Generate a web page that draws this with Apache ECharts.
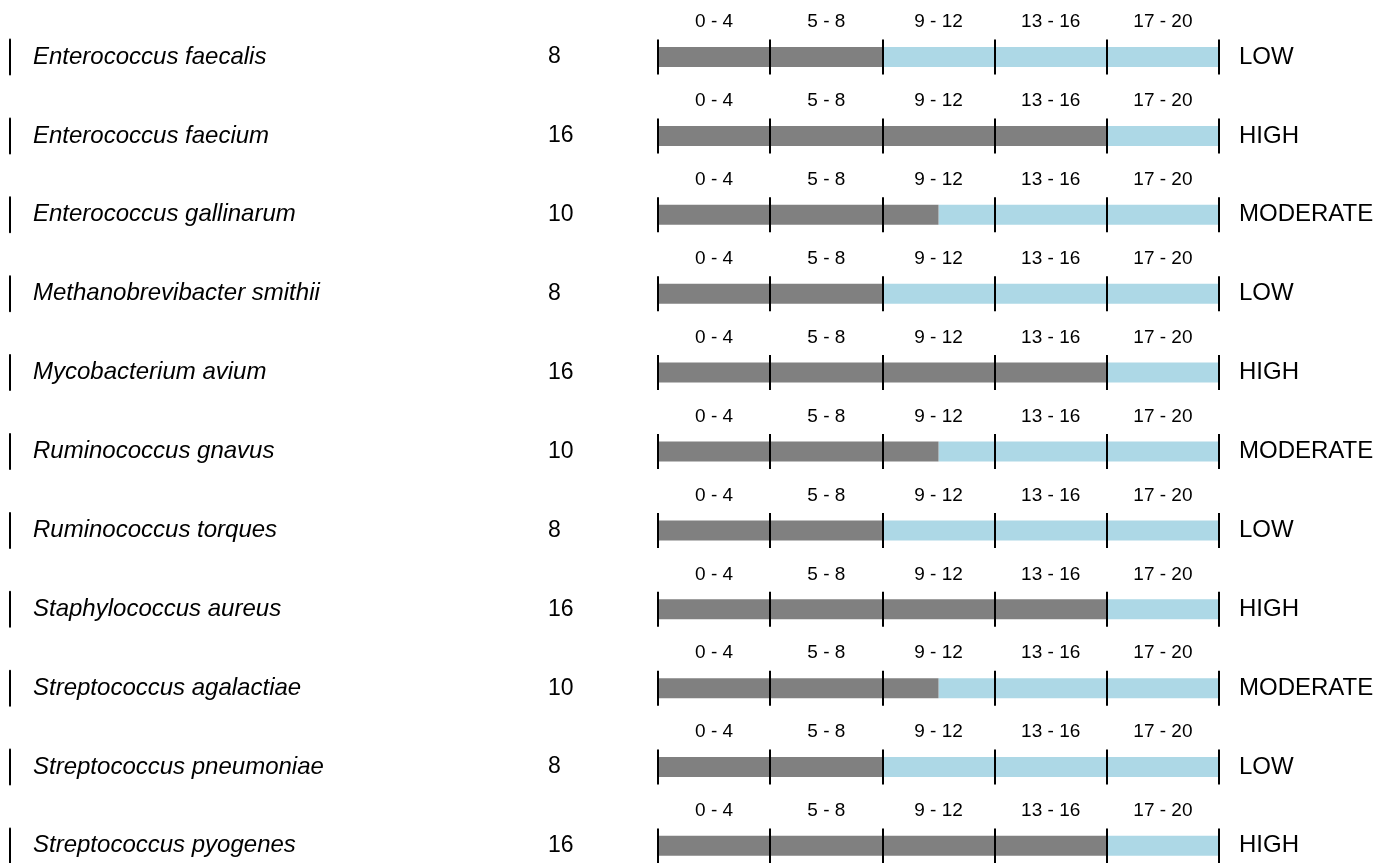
<!DOCTYPE html>
<html>
<head>
<meta charset="utf-8">
<script src="https://cdn.jsdelivr.net/npm/echarts@6/dist/echarts.min.js"></script>
<style>
html,body{margin:0;padding:0;background:#fff;}
#chart{width:1390px;height:863px;}
</style>
</head>
<body>
<div id="chart"></div>
<script>
const species = [
  "Enterococcus faecalis",
  "Enterococcus faecium",
  "Enterococcus gallinarum",
  "Methanobrevibacter smithii",
  "Mycobacterium avium",
  "Ruminococcus gnavus",
  "Ruminococcus torques",
  "Staphylococcus aureus",
  "Streptococcus agalactiae",
  "Streptococcus pneumoniae",
  "Streptococcus pyogenes"
];
const values = [8, 16, 10, 8, 16, 10, 8, 16, 10, 8, 16];
const levels = ["LOW", "HIGH", "MODERATE", "LOW", "HIGH", "MODERATE", "LOW", "HIGH", "MODERATE", "LOW", "HIGH"];
const rangeLabels = ["0 - 4", "5 - 8", "9 - 12", "13 - 16", "17 - 20"];
const tickValues = [0, 4, 8, 12, 16, 20];
const scaleMax = 20;

const FONT = "Liberation Sans, Arial, Helvetica, sans-serif";
const chart = echarts.init(document.getElementById('chart'), null, {renderer: 'canvas'});

const rowCenter0 = 57, rowStep = 78.9, gridH = 35;
const gridLeft = 658, gridRight = 171;

const grid = [], xAxis = [], yAxis = [], series = [];
species.forEach((name, i) => {
  const top = rowCenter0 + i * rowStep - gridH / 2;
  grid.push({left: gridLeft, right: gridRight, top: top, height: gridH});
  xAxis.push({type: 'value', gridIndex: i, min: 0, max: scaleMax, interval: 4, show: false});
  xAxis.push({
    type: 'category', gridIndex: i, position: 'top', data: rangeLabels, boundaryGap: true,
    axisLine: {show: false}, axisTick: {show: false}, splitLine: {show: false},
    axisLabel: {fontSize: 19, color: '#000', fontFamily: FONT, margin: 8, interval: 0}
  });
  yAxis.push({
    type: 'category', gridIndex: i, data: [name], position: 'left', offset: gridLeft - 10,
    axisLine: {show: true, onZero: false, lineStyle: {color: '#000', width: 2}},
    axisTick: {show: false},
    axisLabel: {
      align: 'left', margin: -23,
      formatter: (v) => '{n|' + v + '}{v|' + values[i] + '}',
      rich: {
        n: {fontSize: 24, fontStyle: 'italic', color: '#000', fontFamily: FONT, width: 515},
        v: {fontSize: 23, color: '#000', fontFamily: FONT}
      }
    }
  });
  yAxis.push({
    type: 'category', gridIndex: i, data: [levels[i]], position: 'right',
    axisLine: {show: false, onZero: false}, axisTick: {show: false},
    axisLabel: {margin: 20, fontSize: 24, color: '#000', fontFamily: FONT}
  });
  series.push({
    type: 'bar', xAxisIndex: 2 * i, yAxisIndex: 2 * i, stack: 'r' + i,
    data: [values[i]], barWidth: 20, itemStyle: {color: '#808080'}, silent: true,
    markLine: {
      silent: true, symbol: ['none', 'none'], animation: false,
      label: {show: false},
      lineStyle: {color: '#000', width: 2, type: 'solid'},
      data: tickValues.map(t => ({xAxis: t}))
    },
    z: 2
  });
  series.push({
    type: 'bar', xAxisIndex: 2 * i, yAxisIndex: 2 * i, stack: 'r' + i,
    data: [scaleMax - values[i]], barWidth: 20, itemStyle: {color: '#ADD8E6'}, silent: true, z: 1
  });
});

chart.setOption({
  animation: false,
  backgroundColor: '#fff',
  grid, xAxis, yAxis, series
});
</script>
</body>
</html>
